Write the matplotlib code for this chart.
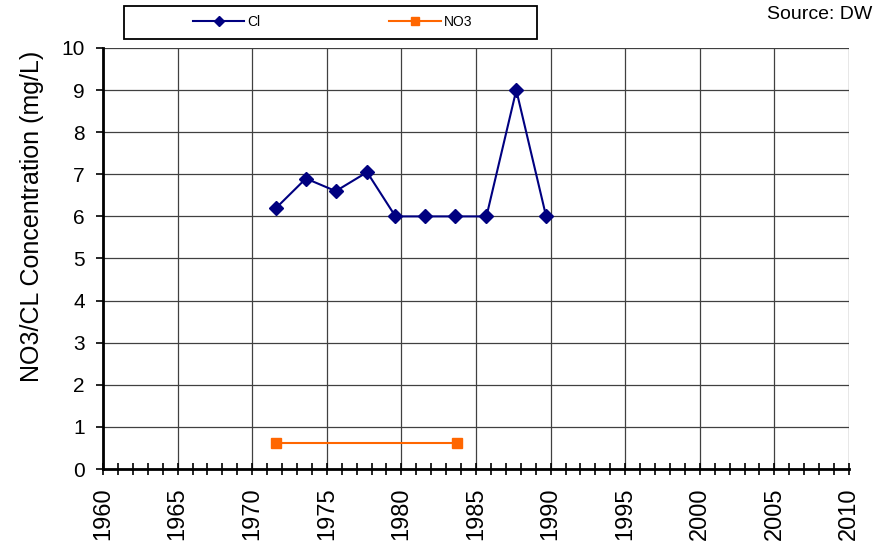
import matplotlib.pyplot as plt
from matplotlib.ticker import MultipleLocator
from matplotlib.patches import Rectangle

cl_years = [1971.6, 1973.6, 1975.6, 1977.7, 1979.6, 1981.6, 1983.6, 1985.7, 1987.7, 1989.7]
cl_vals = [6.2, 6.9, 6.6, 7.05, 6.0, 6.0, 6.0, 6.0, 9.0, 6.0]
no3_years = [1971.6, 1983.7]
no3_vals = [0.62, 0.62]
xticks = list(range(1960, 2011, 5))

plt.rcParams['font.family'] = ['Liberation Sans', 'DejaVu Sans']

fig = plt.figure(figsize=(8.73, 5.49), dpi=100)
ax = fig.add_axes([0.118, 0.1457, 0.8545, 0.7669])

ax.plot(cl_years, cl_vals, c='#000080', marker='D', ms=7, lw=1.5, label='Cl', zorder=3)
ax.plot(no3_years, no3_vals, c='#FF6600', marker='s', ms=6.5, lw=1.5, label='NO3', zorder=3)

ax.set_xlim(1960, 2010)
ax.set_ylim(0, 10)
ax.set_xticks(xticks)
ax.set_xticklabels([str(t) for t in xticks], rotation=90, fontsize=17)
ax.xaxis.set_minor_locator(MultipleLocator(1))
ax.yaxis.set_major_locator(MultipleLocator(1))
ax.tick_params(axis='y', labelsize=15, length=5, width=1.2, pad=8)
ax.tick_params(axis='x', which='both', direction='inout', length=9, width=1.2, pad=9)
ax.grid(True, which='major', color='#404040', lw=0.9)
ax.set_axisbelow(True)

for s in ['top', 'right']:
    ax.spines[s].set_visible(False)
for s in ['left', 'bottom']:
    ax.spines[s].set_linewidth(2)

fig.text(32 / 873, 0.605, 'NO3/CL Concentration (mg/L)', fontsize=18,
         rotation=90, ha='center', va='center')

# legend frame drawn separately (Excel-style wide box)
fig.patches.append(Rectangle((124 / 873, 1 - 39 / 549), 413 / 873, 33 / 549,
                             transform=fig.transFigure, fill=False,
                             edgecolor='black', lw=1.3))
leg = fig.legend(loc='center left', bbox_to_anchor=(186 / 873, 1 - 22 / 549), ncol=2,
                 fontsize=10, frameon=False, handlelength=3.7,
                 columnspacing=9.3, borderpad=0.0, handletextpad=0.2,
                 markerscale=0.8)

fig.text(767 / 873, 1 - 19 / 549, 'Source: DWR', fontsize=14, va='baseline')

fig.savefig('out.png', dpi=100)
